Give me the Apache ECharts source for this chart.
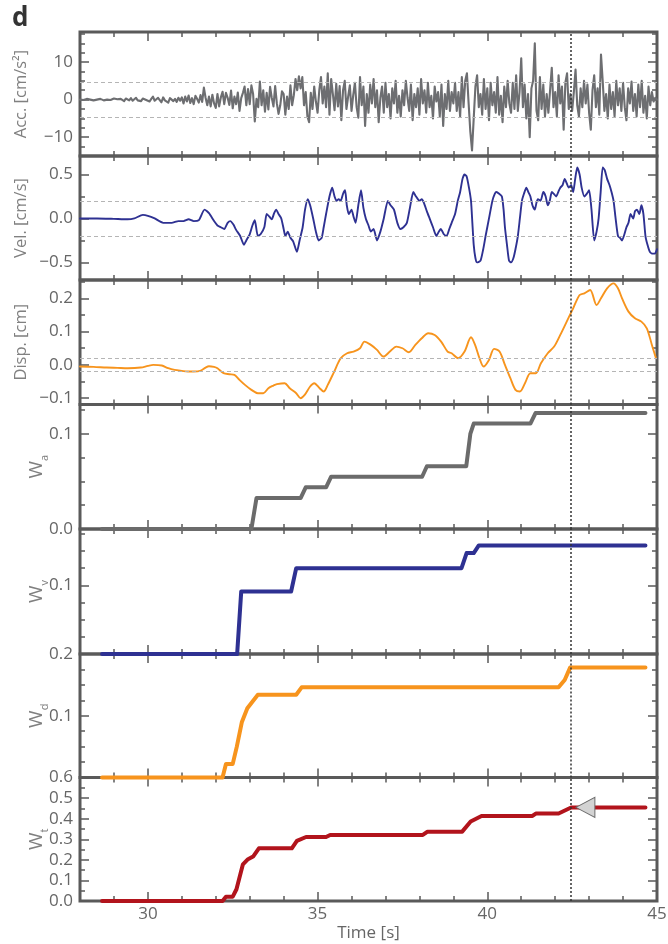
<!DOCTYPE html>
<html><head><meta charset="utf-8">
<script src="https://cdn.jsdelivr.net/npm/echarts@6/dist/echarts.min.js"></script>
<style>html,body{margin:0;padding:0;background:#fff}#c{width:668px;height:944px}</style>
</head><body><div id="c"></div>
<script>
// ---------------- DATA ----------------
const timeMin = 28, timeMax = 45;
const xMajorTicks = [30, 35, 40, 45];
const xMinorTicks = [28,29,30,31,32,33,34,35,36,37,38,39,40,41,42,43,44,45];
const markerTime = 42.47;

// Acceleration, sampled every 0.05 s from 28.0 s
const accStart = 28.0, accStep = 0.05;
const accValues = [
 0,0.1,-0.1,0,0.2,-0.1,0,0.1,-0.2,0.1,0,-0.1,0.2,0,-0.2,0.1,0,0.2,-0.1,0,
 0.3,-0.2,0.1,-0.3,0.2,0,-0.4,0.3,0.1,-0.2,0.4,-0.3,0,0.5,-0.2,0.1,-0.4,0.3,0.6,-0.1,
 0.4,-0.5,0.2,0.8,-0.3,-0.6,0.5,0.1,-0.7,0.6,-0.2,0.3,-0.8,0.4,0.7,-0.4,0.2,-0.6,0.5,-0.3,
 0.6,-1,0.8,-0.5,1.1,-0.9,0.4,-1.2,1,0.2,-0.8,1.2,-0.6,3.2,0.5,-1.5,0.8,-1.8,1.3,-1,
 -2.2,1.5,-1.8,0.6,2.1,-1.2,1.8,0.5,-1.4,2.4,-2.3,0.8,-1.2,1.9,-3,0.4,1.8,3.5,-1.5,2.8,
 -1.2,3.8,1.5,-5.8,0.2,-2,4.8,-1.5,2.5,-3.2,1.8,-2.6,3.4,0.5,-1.8,3.6,-1,-3.8,-1.5,2.2,
 1.5,-4,0.8,-2.5,3.8,-1.5,1.2,5.5,2.5,6.2,3,6,-1.5,2,-4.5,-6,1.8,-2.5,3.5,-0.5,
 -3.5,2.5,6,-1,3.5,-2,7,-4,5.5,1.5,-2.8,4.2,-1.8,3.6,-5.5,2.5,5,-2.5,0.8,3.8,
 -3,1.2,4.5,-2,-4.8,6,-1.5,3.5,-7,1.5,-3.5,4,-1,5.5,-2,2.5,-6,0.5,3.5,-3.5,
 4.5,-2,1.5,-5,3,-1,5,-3.5,1,-4.5,2.5,-1.5,5,0.5,-3,4,-5.5,1.5,-2,3,
 -4,5.5,-1,2.5,-3.5,4.5,-2,1,-5,3.5,-0.5,2,-4.5,4,-7,1.5,-2.5,5,-3,2,
 -1,4.5,-3,2,-4.5,6,-2,5,7,-1,-8.5,-13.5,-5,3.5,6.5,-2,1.5,-4,5.5,-2.5,
 3,-5.5,4.5,-1.5,2,-3.5,6,-4,1,-6,3.5,-2,5,-1,-3.5,4.5,-2.5,6.5,-3,2,
 11,-2,4,-5,1.5,-10,3,5,15,-3,-5.5,6,-2.5,4,-4.5,1.5,-3.5,2.5,8.5,-2,
 2,-4.5,6.5,-1,3.5,-8,4.5,7,-2.5,1.5,-3,2,8,-1.5,-4.5,3,-2,5,-1,4,
 -3.5,-8,2.5,6.5,-2,3,-4,12,5,-3,1.5,-5,4,-2.5,2,-4.5,5,-1.5,3,-3,
 4.5,-2,-5.5,3,-1,4.8,-3,1.5,-4.5,4,-2,5,-3.5,1,-5,3.5,-1.5,2,-0.5,0.5,
 0
];

// Velocity [t, v]
const velData = [
 [28.0,0],[28.5,0],[29.0,-0.005],[29.4,-0.01],[29.6,0.0],[29.85,0.04],[30.0,0.03],[30.2,0.0],[30.45,-0.05],[30.7,-0.05],
 [30.9,-0.03],[31.05,-0.03],[31.2,-0.01],[31.35,-0.03],[31.5,-0.02],[31.67,0.1],[31.8,0.06],[31.95,-0.03],[32.05,-0.08],[32.15,-0.1],
 [32.25,-0.12],[32.35,-0.05],[32.43,-0.03],[32.52,-0.07],[32.6,-0.13],[32.72,-0.2],[32.83,-0.3],[32.9,-0.25],[33.0,-0.18],[33.08,-0.08],
 [33.15,-0.02],[33.24,-0.2],[33.32,-0.18],[33.43,-0.1],[33.5,0.05],[33.58,0.02],[33.65,-0.01],[33.72,0.06],[33.78,0.1],[33.85,0.05],
 [33.93,0.0],[34.0,-0.12],[34.05,-0.2],[34.12,-0.15],[34.2,-0.22],[34.28,-0.26],[34.39,-0.38],[34.47,-0.25],[34.56,-0.1],[34.63,0.1],
 [34.71,0.22],[34.78,0.15],[34.87,0.0],[34.95,-0.15],[35.03,-0.25],[35.12,-0.22],[35.18,-0.1],[35.25,0.05],[35.35,0.25],[35.43,0.35],
 [35.5,0.25],[35.56,0.2],[35.62,0.22],[35.68,0.2],[35.75,0.28],[35.81,0.32],[35.86,0.15],[35.92,0.05],[36.0,0.1],[36.06,0.02],
 [36.12,-0.05],[36.2,0.15],[36.28,0.32],[36.35,0.12],[36.42,0.0],[36.5,-0.08],[36.57,-0.15],[36.65,-0.12],[36.75,-0.25],[36.85,-0.15],
 [36.95,0.0],[37.07,0.2],[37.15,0.15],[37.25,0.1],[37.35,-0.05],[37.44,-0.12],[37.53,-0.1],[37.63,-0.05],[37.72,0.12],[37.82,0.3],
 [37.9,0.25],[38.0,0.2],[38.07,0.22],[38.13,0.18],[38.22,0.08],[38.3,0.0],[38.4,-0.1],[38.5,-0.2],[38.57,-0.15],[38.63,-0.12],
 [38.72,-0.18],[38.8,-0.2],[38.88,-0.12],[38.95,-0.05],[39.05,0.05],[39.13,0.2],[39.2,0.3],[39.27,0.45],[39.33,0.5],[39.39,0.48],
 [39.46,0.35],[39.52,0.2],[39.56,-0.05],[39.6,-0.3],[39.65,-0.45],[39.7,-0.5],[39.8,-0.48],[39.88,-0.35],[39.95,-0.2],[40.05,0.0],
 [40.15,0.2],[40.22,0.28],[40.27,0.3],[40.35,0.28],[40.43,0.25],[40.48,0.1],[40.52,-0.1],[40.58,-0.3],[40.64,-0.48],[40.7,-0.5],
 [40.77,-0.45],[40.83,-0.35],[40.9,-0.2],[40.96,0.0],[41.02,0.2],[41.08,0.28],[41.15,0.35],[41.21,0.3],[41.27,0.25],[41.33,0.15],
 [41.4,0.1],[41.45,0.18],[41.49,0.22],[41.57,0.2],[41.65,0.3],[41.72,0.25],[41.78,0.15],[41.84,0.2],[41.9,0.3],[41.96,0.28],
 [42.03,0.25],[42.09,0.3],[42.15,0.35],[42.22,0.38],[42.28,0.45],[42.34,0.4],[42.4,0.35],[42.47,0.38],[42.53,0.3],[42.59,0.45],
 [42.65,0.58],[42.72,0.5],[42.78,0.35],[42.86,0.25],[42.93,0.28],[43.0,0.32],[43.07,0.1],[43.15,-0.25],[43.22,-0.15],[43.28,0.0],
 [43.34,0.3],[43.4,0.58],[43.46,0.55],[43.53,0.45],[43.6,0.38],[43.66,0.3],[43.72,0.2],[43.78,0.0],[43.85,-0.2],[43.91,-0.22],
 [43.97,-0.25],[44.04,-0.18],[44.1,-0.1],[44.16,-0.05],[44.22,0.05],[44.3,0.0],[44.35,0.08],[44.41,0.1],[44.48,0.05],[44.54,0.15],
 [44.6,0.05],[44.66,-0.2],[44.72,-0.3],[44.79,-0.38],[44.87,-0.4],[44.94,-0.4],[45.0,-0.35]
];

// Displacement
const dispT = [28.0,28.4,28.78,29.1,29.41,29.79,30.0,30.16,30.41,30.6,30.79,31.0,31.17,31.35,31.54,31.7,31.8,31.95,32.05,32.23,32.4,32.55,32.7,32.86,33.05,33.24,33.4,33.55,33.7,33.8,34.03,34.18,34.37,34.5,34.62,34.78,34.9,35.06,35.18,35.3,35.49,35.68,35.87,36.06,36.25,36.38,36.57,36.75,36.94,37.13,37.32,37.5,37.69,37.88,38.07,38.26,38.45,38.64,38.83,38.95,39.14,39.33,39.52,39.64,39.77,39.89,40.05,40.2,40.36,40.52,40.68,40.83,40.96,41.11,41.27,41.43,41.58,41.78,41.97,42.15,42.34,42.53,42.72,42.86,43.03,43.22,43.35,43.53,43.72,43.85,43.97,44.16,44.35,44.54,44.7,44.85,44.97];
const dispV = [-0.005,-0.006,-0.008,-0.009,-0.01,-0.008,-0.003,0.0,-0.002,-0.01,-0.015,-0.018,-0.02,-0.02,-0.018,-0.008,-0.004,-0.006,-0.01,-0.025,-0.028,-0.03,-0.045,-0.06,-0.075,-0.085,-0.085,-0.07,-0.062,-0.058,-0.055,-0.07,-0.085,-0.1,-0.09,-0.065,-0.055,-0.07,-0.08,-0.06,-0.02,0.02,0.035,0.04,0.05,0.07,0.06,0.045,0.025,0.04,0.055,0.05,0.038,0.06,0.08,0.095,0.09,0.07,0.04,0.035,0.02,0.04,0.083,0.06,0.02,-0.005,0.015,0.048,0.04,0.0,-0.04,-0.075,-0.08,-0.055,-0.025,-0.025,0.005,0.035,0.055,0.09,0.13,0.17,0.21,0.215,0.225,0.18,0.2,0.23,0.245,0.23,0.2,0.16,0.14,0.13,0.11,0.06,0.02];

// Weights
const waData = [[28.65,0],[33.05,0],[33.2,0.0326],[34.5,0.0326],[34.65,0.0438],[35.25,0.0438],[35.4,0.055],[38.08,0.055],[38.22,0.066],[39.38,0.066],[39.5,0.1],[39.6,0.111],[41.27,0.111],[41.42,0.122],[44.66,0.122]];
const wvData = [[28.65,0],[32.63,0],[32.75,0.091],[34.22,0.091],[34.37,0.125],[39.24,0.125],[39.39,0.147],[39.6,0.147],[39.75,0.158],[44.66,0.158]];
const wdData = [[28.65,0],[32.2,0],[32.3,0.022],[32.5,0.022],[32.62,0.05],[32.77,0.09],[32.93,0.112],[33.24,0.134],[34.37,0.134],[34.53,0.146],[42.1,0.146],[42.28,0.158],[42.44,0.178],[44.66,0.178]];
const wtData = [[28.65,0],[32.2,0],[32.3,0.021],[32.5,0.021],[32.61,0.057],[32.8,0.178],[32.95,0.203],[33.1,0.216],[33.27,0.256],[34.24,0.256],[34.39,0.292],[34.66,0.311],[35.25,0.311],[35.37,0.321],[38.1,0.321],[38.24,0.337],[39.26,0.337],[39.51,0.386],[39.83,0.413],[41.33,0.413],[41.43,0.425],[42.1,0.425],[42.47,0.454],[44.66,0.454]];
const wtMarker = [42.89, 0.455];

// Y axis tick values
const accMajor = [-10,0,10], accMinor = [-15,-12.5,-10,-7.5,-5,-2.5,0,2.5,5,7.5,10,12.5,15,17.5], accLabels = [-10,0,10];
const velMajor = [-0.5,0,0.5], velMinor = [-0.5,-0.25,0,0.25,0.5], velLabels = [-0.5,0,0.5];
const dispMajor = [-0.1,0,0.1,0.2], dispMinor = [-0.1,-0.05,0,0.05,0.1,0.15,0.2,0.25], dispLabels = [-0.1,0,0.1,0.2];
const waMajor = [0,0.1], waMinor = [0,0.025,0.05,0.075,0.1,0.125], waLabels = [0,0.1];
const wvMajor = [0,0.1], wvMinor = [0,0.025,0.05,0.075,0.1,0.125,0.15,0.175], wvLabels = [0.1];
const wdMajor = [0,0.1,0.2], wdMinor = [0,0.025,0.05,0.075,0.1,0.125,0.15,0.175,0.2], wdLabels = [0.1,0.2];
const wtMajor = [0,0.1,0.2,0.3,0.4,0.5,0.6], wtMinor = [0,0.05,0.1,0.15,0.2,0.25,0.3,0.35,0.4,0.45,0.5,0.55,0.6], wtLabels = [0,0.1,0.2,0.3,0.4,0.5,0.6];

const accThr = [4.7, -4.7], velThr = [0.2, -0.2], dispThr = [0.022, -0.022];

// ---------------- BUILD ----------------
const accData = accValues.map((v, i) => [accStart + i * accStep, v]);
const dispData = dispT.map((t, i) => [t, dispV[i]]);

const FONT = '"Open Sans", "Noto Sans", sans-serif';
const FRAME = '#5a5a5a';
const LBL = '#666';
const NAMEC = '#808080';

const panels = [
  {data: accData, color: '#6d6e71', width: 2.1, min: -15, max: 18, major: accMajor, minor: accMinor, labels: accLabels, dec: 0, name: 'Acc. [cm/s²]', gap: 50, thr: accThr},
  {data: velData, color: '#2e3192', width: 1.9, min: -0.7, max: 0.71, major: velMajor, minor: velMinor, labels: velLabels, dec: 1, name: 'Vel. [cm/s]', gap: 50, thr: velThr, smooth: 0.2},
  {data: dispData, color: '#f7941d', width: 1.9, min: -0.119, max: 0.255, major: dispMajor, minor: dispMinor, labels: dispLabels, dec: 1, name: 'Disp. [cm]', gap: 50, thr: dispThr, smooth: 0.3},
  {data: waData, color: '#6b6b6b', width: 4, min: 0, max: 0.131, major: waMajor, minor: waMinor, labels: waLabels, dec: 1, name: '{m|W}{s|a}', gap: 30, thr: []},
  {data: wvData, color: '#2e3192', width: 4, min: 0, max: 0.182, major: wvMajor, minor: wvMinor, labels: wvLabels, dec: 1, name: '{m|W}{s|v}', gap: 30, thr: []},
  {data: wdData, color: '#f7941d', width: 4, min: 0, max: 0.2, major: wdMajor, minor: wdMinor, labels: wdLabels, dec: 1, name: '{m|W}{s|d}', gap: 30, thr: []},
  {data: wtData, color: '#b2141c', width: 4, min: 0, max: 0.6, major: wtMajor, minor: wtMinor, labels: wtLabels, dec: 1, name: '{m|W}{s|t}', gap: 30, thr: [], marker: wtMarker}
];

const tops = [32, 156, 280, 404.5, 529, 654, 777.5];
const bottoms = [156, 280, 404.5, 529, 654, 777.5, 901];

function fmt(v, dec) {
  const s = Math.abs(v).toFixed(dec);
  return (v < -1e-9 ? '\u2212' : '') + s;
}

const grids = [], xAxes = [], yAxes = [], series = [];
const tickStyle = {color: FRAME, width: 1.5};
const noLine = {show: false, onZero: false};

panels.forEach((p, i) => {
  grids.push({left: 80, right: 11, top: tops[i], height: bottoms[i] - tops[i], show: true,
    borderColor: FRAME, borderWidth: 3, backgroundColor: 'transparent', containLabel: false, outerBoundsMode: 'none'});
  const last = i === panels.length - 1;
  ['bottom', 'top'].forEach(pos => {
    xAxes.push({type: 'value', gridIndex: i, position: pos, min: timeMin, max: timeMax,
      axisLine: noLine, splitLine: {show: false},
      axisTick: {show: true, inside: true, length: 9, lineStyle: tickStyle, customValues: xMajorTicks},
      axisLabel: {show: last && pos === 'bottom', customValues: xMajorTicks, margin: 5, color: LBL, fontSize: 17, fontFamily: FONT,
        formatter: v => String(Math.round(v))},
      name: (last && pos === 'bottom') ? 'Time [s]' : '', nameLocation: 'middle', nameGap: 24, nameMoveOverlap: false,
      nameTextStyle: {color: LBL, fontSize: 17, fontFamily: FONT}
    });
    xAxes.push({type: 'value', gridIndex: i, position: pos, min: timeMin, max: timeMax,
      axisLine: noLine, splitLine: {show: false},
      axisTick: {show: true, inside: true, length: 5, lineStyle: tickStyle, customValues: xMinorTicks},
      axisLabel: {show: false}
    });
  });
  ['left', 'right'].forEach(pos => {
    const isLeft = pos === 'left';
    yAxes.push({type: 'value', gridIndex: i, position: pos, min: p.min, max: p.max,
      axisLine: noLine, splitLine: {show: false},
      axisTick: {show: true, inside: true, length: 9, lineStyle: tickStyle, customValues: p.major},
      axisLabel: {show: isLeft, customValues: p.labels, margin: 7, color: LBL, fontSize: 17, fontFamily: FONT,
        formatter: v => fmt(v, p.dec)},
      name: isLeft ? p.name : '', nameLocation: 'middle', nameGap: p.gap, nameMoveOverlap: false,
      nameTextStyle: {color: NAMEC, fontSize: 16.5, fontFamily: FONT,
        rich: {m: {fontSize: 19, color: NAMEC, fontFamily: FONT, lineHeight: 26, verticalAlign: 'middle'},
               s: {fontSize: 11, color: NAMEC, fontFamily: FONT, lineHeight: 26, verticalAlign: 'bottom'}}}
    });
    yAxes.push({type: 'value', gridIndex: i, position: pos, min: p.min, max: p.max,
      axisLine: noLine, splitLine: {show: false},
      axisTick: {show: true, inside: true, length: 5, lineStyle: tickStyle, customValues: p.minor},
      axisLabel: {show: false}
    });
  });

  const mlData = p.thr.map(v => ({yAxis: v, lineStyle: {color: '#b5b5b5', type: [4, 3], width: 1.2}}));
  series.push({type: 'line', xAxisIndex: 4 * i, yAxisIndex: 4 * i, data: [], z: 1, silent: true,
    markLine: {symbol: ['none', 'none'], silent: true, label: {show: false}, animation: false, data: mlData}});

  const s = {type: 'line', xAxisIndex: 4 * i, yAxisIndex: 4 * i, data: p.data, showSymbol: false, symbol: 'none',
    smooth: p.smooth || false, clip: p.width < 3, z: 3,
    lineStyle: {color: p.color, width: p.width, join: 'round', cap: 'round'}};
  if (p.marker) {
    s.markPoint = {silent: true, animation: false, symbol: 'triangle', symbolRotate: 90, symbolSize: [20, 19],
      itemStyle: {color: '#d3d3d3', borderColor: '#6a6a6a', borderWidth: 1},
      label: {show: false}, data: [{coord: p.marker}]};
  }
  series.push(s);

  series.push({type: 'line', xAxisIndex: 4 * i, yAxisIndex: 4 * i, data: [], z: 5, silent: true,
    markLine: {symbol: ['none', 'none'], silent: true, label: {show: false}, animation: false,
      data: [{xAxis: markerTime, lineStyle: {color: '#333', type: [2, 2], width: 1.5}}]}});
});

const chart = echarts.init(document.getElementById('c'));
chart.setOption({
  animation: false,
  backgroundColor: '#fff',
  textStyle: {fontFamily: FONT},
  grid: grids, xAxis: xAxes, yAxis: yAxes, series: series,
  graphic: [{type: 'text', left: 12, top: 6, style: {text: 'd', font: 'bold 26px ' + FONT, fill: '#333'}}]
});
</script></body></html>
